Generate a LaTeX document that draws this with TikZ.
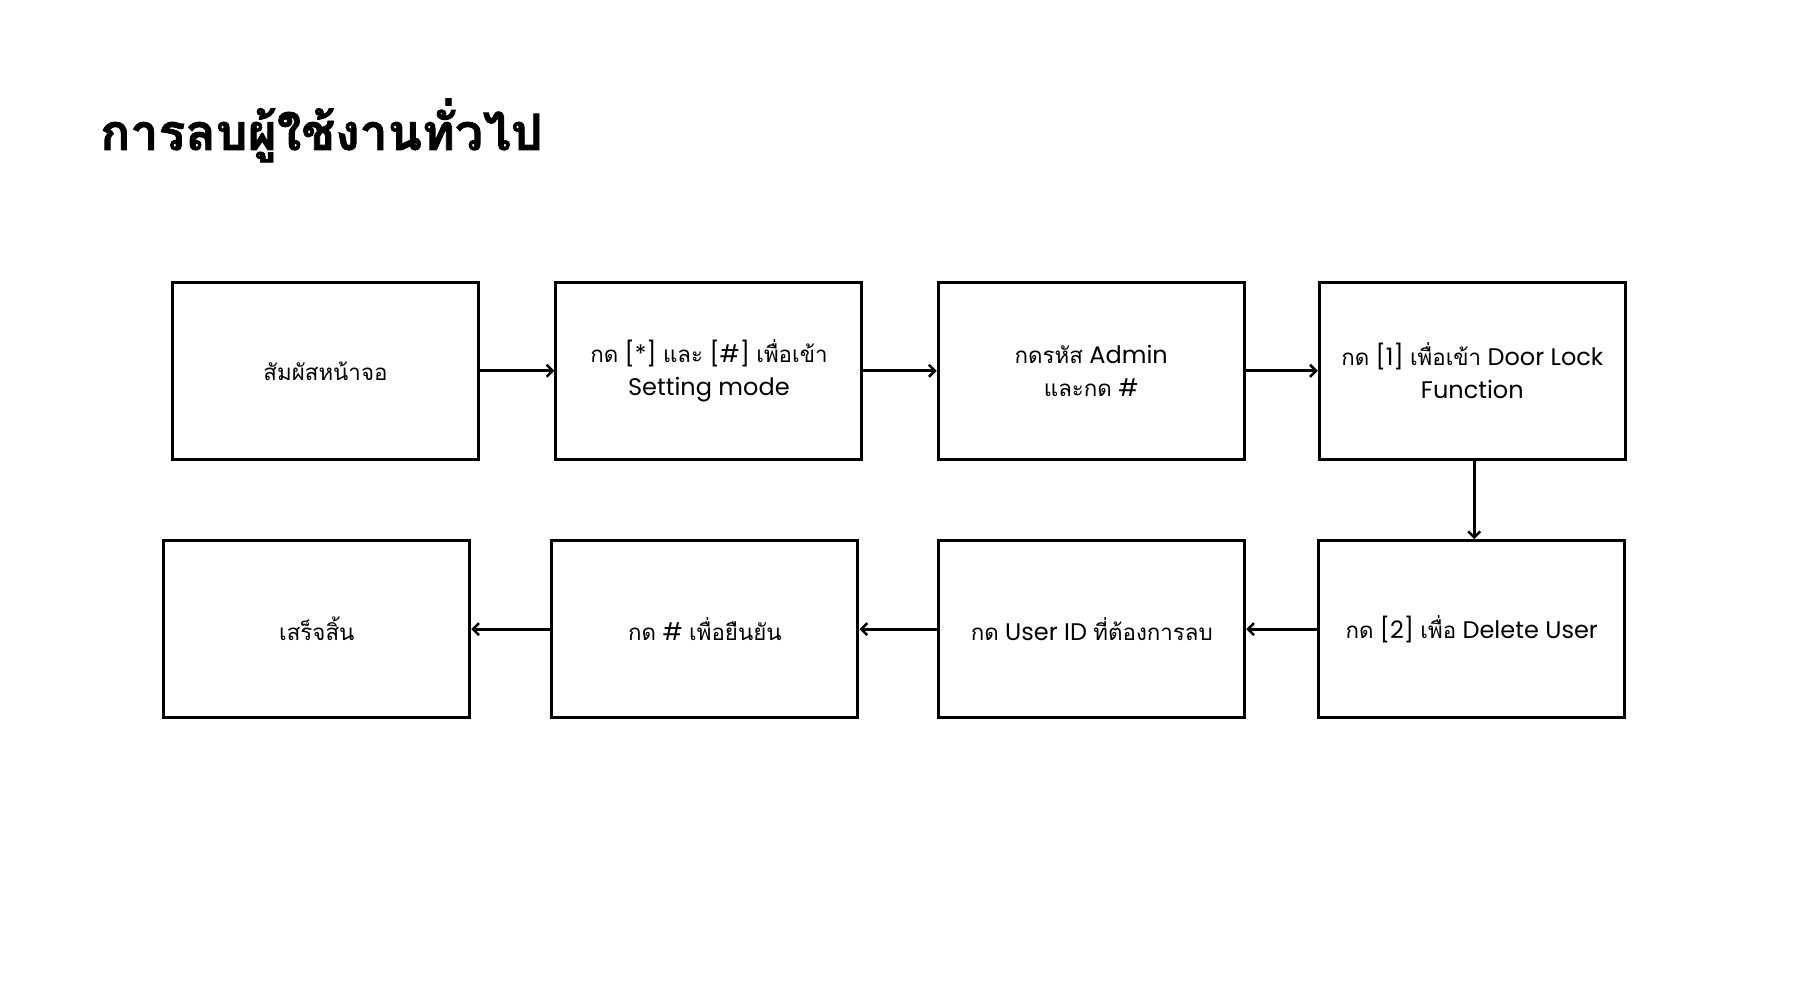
\documentclass[tikz,border=0pt]{standalone}
\usepackage{fontspec}
\setmainfont{Poppins}
\newfontfamily\thai[Script=Thai,Scale=0.93]{Loma}
\newfontfamily\thaititle[Script=Thai,FakeBold=1.5]{Loma}
\usetikzlibrary{arrows.meta}
\tikzset{
  stepbox/.style={draw=black, line width=3pt, minimum width=306pt, minimum height=177pt, inner sep=0pt, align=center, font=\fontsize{24}{33}\selectfont},
  flow/.style={draw=black, line width=3pt, -{Straight Barb[length=6pt,width=12pt,line width=2.5pt]}},
}
\begin{document}
\begin{tikzpicture}[x=1pt,y=-1pt]
\useasboundingbox[fill=white] (0,0) rectangle (1800,1000);
\node[anchor=base west, inner sep=0pt, font=\fontsize{50}{60}\selectfont\thaititle\bfseries] (title) at (100,150) {การลบผู้ใช้งานทั่วไป};
\node[stepbox] (b1) at (325.5,370.8) {{\thai สัมผัสหน้าจอ}};
\node[stepbox] (b2) at (708.9,370.8) {{\thai กด} [*] {\thai และ} [\#] {\thai เพื่อเข้า}\\Setting mode};
\node[stepbox] (b3) at (1091.2,370.8) {{\thai กดรหัส} Admin\\{\thai และกด} \#};
\node[stepbox] (b4) at (1472.3,370.8) {{\thai กด} [1] {\thai เพื่อเข้า} Door Lock\\Function};
\node[stepbox] (b8) at (1471.7,629.1) {{\thai กด} [2] {\thai เพื่อ} Delete User};
\node[stepbox] (b7) at (1091.8,629.1) {{\thai กด} User ID {\thai ที่ต้องการลบ}};
\node[stepbox] (b6) at (704.9,629.1) {{\thai กด} \# {\thai เพื่อยืนยัน}};
\node[stepbox] (b5) at (316.8,629.1) {{\thai เสร็จสิ้น}};
\draw[flow] (b1) -- (b2);
\draw[flow] (b2) -- (b3);
\draw[flow] (b3) -- (b4);
\draw[flow] ([xshift=2pt]b4.south) -- ([xshift=2pt]b4.south |- b8.north);
\draw[flow] (b8) -- (b7);
\draw[flow] (b7) -- (b6);
\draw[flow] (b6) -- (b5);
\end{tikzpicture}
\end{document}
